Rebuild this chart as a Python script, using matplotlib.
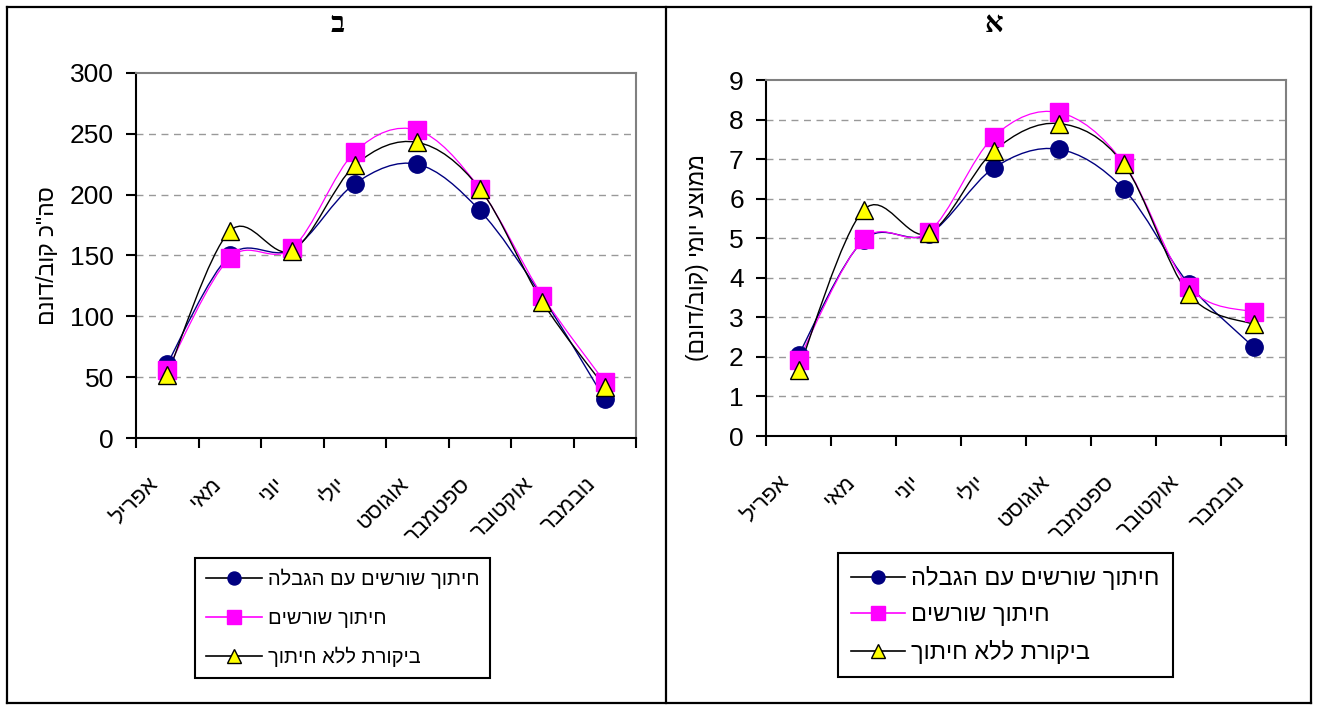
import numpy as np
import matplotlib.pyplot as plt
import matplotlib.transforms as mtransforms
from matplotlib.path import Path
from matplotlib.patches import PathPatch
from matplotlib.lines import Line2D

# data
months = ['אפריל', 'מאי', 'יוני', 'יולי', 'אוגוסט', 'ספטמבר', 'אוקטובר', 'נובמבר']
series_names = ['חיתוך שורשים עם הגבלה', 'חיתוך שורשים', 'ביקורת ללא חיתוך']

# panel ב - seasonal total (m3/dunam)
total_limited = [61, 150, 155, 209, 225, 187, 116, 32]
total_cut = [56, 148, 156, 235, 253, 205, 117, 46]
total_control = [52, 170, 154, 224, 243, 205, 112, 42]

# panel א - daily mean (m3/dunam)
daily_limited = [2.05, 4.95, 5.1, 6.77, 7.25, 6.25, 3.85, 2.25]
daily_cut = [1.92, 4.97, 5.15, 7.56, 8.18, 6.9, 3.77, 3.13]
daily_control = [1.68, 5.71, 5.12, 7.2, 7.9, 6.88, 3.6, 2.82]

W, H = 1317, 706
HEB = ['Liberation Sans', 'DejaVu Sans']
plt.rcParams['font.family'] = HEB


def rtl(s):
    # matplotlib has no bidi, so flip the string and mirror brackets
    s = s[::-1]
    return s.translate(str.maketrans('()', ')('))


def fx(x):
    return x / W


def fy(y):
    return 1 - y / H


def smooth_path(x, y):
    # excel-like smoothed line (cubic bezier, catmull-rom control points)
    pts = np.column_stack([x, y]).astype(float)
    n = len(pts)
    verts = [pts[0]]
    codes = [Path.MOVETO]
    for i in range(n - 1):
        p0 = pts[i - 1] if i > 0 else pts[i]
        p1, p2 = pts[i], pts[i + 1]
        p3 = pts[i + 2] if i + 2 < n else pts[i + 1]
        verts += [p1 + (p2 - p0) / 6, p2 - (p3 - p1) / 6, p2]
        codes += [Path.CURVE4] * 3
    return Path(verts, codes)


styles = [
    dict(line='#000080', marker='o', mfc='#000080', mec='#000080', ms=12.5, lw=1.0),
    dict(line='#FF00FF', marker='s', mfc='#FF00FF', mec='#FF00FF', ms=12.5, lw=0.9),
    dict(line='black', marker='^', mfc='#FFFF00', mec='black', ms=13.5, lw=1.0),
]


def draw_panel(ax, series, ymax, ystep, ylabel, ylabel_x):
    x = np.arange(len(months)) + 0.5
    for i, (vals, st) in enumerate(zip(series, styles)):
        ax.add_patch(PathPatch(smooth_path(x, vals), fill=False,
                               edgecolor=st['line'], lw=st['lw'], zorder=2))
    for i, (vals, st) in enumerate(zip(series, styles)):
        ax.plot(x, vals, ls='none', marker=st['marker'], ms=st['ms'],
                mfc=st['mfc'], mec=st['mec'], mew=1.0, zorder=3 + i)
    ax.set_xlim(0, len(months))
    ax.set_ylim(0, ymax)
    ax.set_yticks(np.arange(0, ymax + ystep / 2, ystep))
    for v in np.arange(ystep, ymax, ystep):
        ax.axhline(v, color='#999999', lw=1.0, ls=(0, (5, 4)), zorder=1)
    ax.set_xticks(np.arange(0, len(months) + 1))
    ax.set_xticklabels([])
    ax.set_xticks(x, minor=True)
    ax.set_xticklabels([rtl(m) for m in months], minor=True, rotation=45,
                       ha='right', va='center', rotation_mode='anchor', fontsize=16)
    ax.tick_params(axis='x', which='minor', length=0, pad=31)
    ax.tick_params(axis='both', which='major', direction='out', length=7,
                   width=1.5, labelsize=19)
    ax.tick_params(axis='y', which='major', pad=9)
    off = mtransforms.ScaledTranslation(-12 / 100, 0, ax.figure.dpi_scale_trans)
    for lab in ax.get_xticklabels(minor=True):
        lab.set_transform(lab.get_transform() + off)
    for side in ['left', 'bottom']:
        ax.spines[side].set_color('black')
        ax.spines[side].set_linewidth(1.5)
    for side in ['top', 'right']:
        ax.spines[side].set_color('#808080')
        ax.spines[side].set_linewidth(1.5)
    ax.set_ylabel(rtl(ylabel), fontsize=16.5)
    ax.yaxis.set_label_coords(ylabel_x, 0.5)


fig = plt.figure(figsize=(W / 100, H / 100), dpi=100)

ax_b = fig.add_axes([fx(136), fy(438), fx(500), (438 - 73) / H])
draw_panel(ax_b, [total_limited, total_cut, total_control], 300, 50,
           'סה"כ קוב/דונם', -0.155)

ax_a = fig.add_axes([fx(766), fy(436), fx(520), (436 - 80) / H])
draw_panel(ax_a, [daily_limited, daily_cut, daily_control], 9, 1,
           'ממוצע יומי (קוב/דונם)', -0.11)

# legends
handles = [Line2D([], [], color=st['line'] if i != 0 else 'black', lw=1.2,
                  marker=st['marker'], ms=st['ms'] * 0.75, mfc=st['mfc'],
                  mec=st['mec'])
           for i, st in enumerate(styles)]
labels = [rtl(s) for s in series_names]
legend_specs = [
    (ax_b, (195, 558), 14.5, 0.95, 2.8),
    (ax_a, (838, 553), 17, 0.6, 2.3),
]
for ax, (lx, ly), fs, spacing, hlen in legend_specs:
    leg = ax.legend(handles, labels, loc='upper left',
                    bbox_to_anchor=(fx(lx), fy(ly)), bbox_transform=fig.transFigure,
                    fontsize=fs, frameon=True, fancybox=False, edgecolor='black',
                    framealpha=1, borderpad=0.55, labelspacing=spacing,
                    handlelength=hlen, handletextpad=0.25, borderaxespad=0)
    leg.get_frame().set_linewidth(1.5)

# panel titles
fig.text(fx(338), fy(25), rtl('ב'), ha='center', va='center', fontsize=21,
         fontweight='bold', family=['Liberation Serif', 'DejaVu Serif'])
fig.text(fx(994), fy(25), rtl('א'), ha='center', va='center', fontsize=21,
         fontweight='bold', family=['Liberation Serif', 'DejaVu Serif'])

# table frame
for xs, ys in [((7, 1311), (7, 7)), ((7, 1311), (703, 703)),
               ((7, 7), (7, 703)), ((1311, 1311), (7, 703)),
               ((666, 666), (7, 703))]:
    fig.add_artist(Line2D([fx(v) for v in xs], [fy(v) for v in ys],
                          color='black', lw=1.6))

plt.savefig('out.png', dpi=100)
